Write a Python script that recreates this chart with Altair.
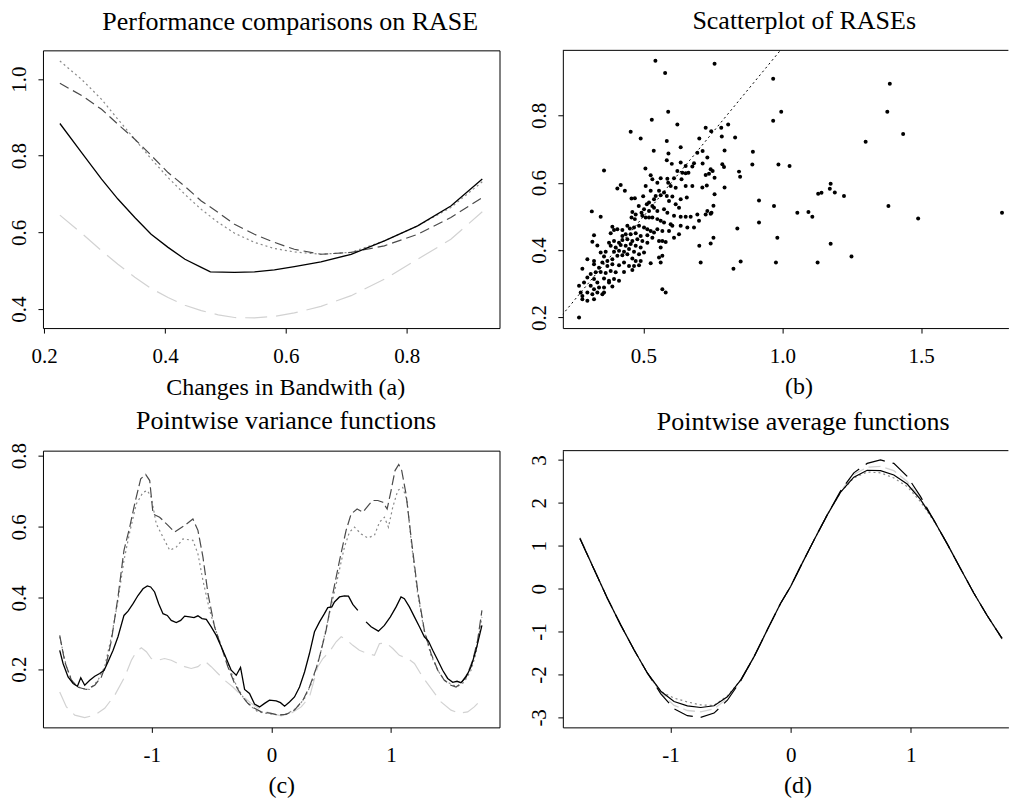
import altair as alt
import pandas as pd

FONT = "Liberation Serif"

# ---------------- (a) Performance comparisons on RASE ----------------
A_X = [0.226, 0.262, 0.295, 0.322, 0.350, 0.377, 0.405, 0.433, 0.460, 0.488,
       0.515, 0.548, 0.581, 0.614, 0.658, 0.708, 0.763, 0.818, 0.873, 0.925]
A_DASH = [0.989, 0.957, 0.921, 0.882, 0.843, 0.801, 0.756, 0.720, 0.682, 0.652,
          0.621, 0.595, 0.574, 0.556, 0.543, 0.548, 0.565, 0.595, 0.639, 0.691]
A_DOT = [1.047, 0.999, 0.947, 0.895, 0.843, 0.792, 0.743, 0.699, 0.660, 0.626,
         0.598, 0.574, 0.558, 0.549, 0.543, 0.548, 0.578, 0.617, 0.665, 0.732]
A_LIGHT = [0.645, 0.598, 0.552, 0.517, 0.483, 0.454, 0.430, 0.410, 0.396, 0.385,
           0.378, 0.377, 0.381, 0.390, 0.407, 0.435, 0.478, 0.530, 0.582, 0.654]
A_SOLID_X = [0.226, 0.262, 0.295, 0.322, 0.350, 0.377, 0.405, 0.433, 0.460, 0.475,
             0.515, 0.548, 0.581, 0.614, 0.658, 0.708, 0.763, 0.818, 0.873, 0.925]
A_SOLID = [0.884, 0.808, 0.739, 0.687, 0.639, 0.595, 0.561, 0.530, 0.509, 0.497,
           0.496, 0.497, 0.502, 0.511, 0.523, 0.543, 0.578, 0.617, 0.669, 0.739]

# ---------------- (b) Scatterplot of RASEs ----------------
B_PTS = [
    (.537, .695), (.590, .687), (.634, .705), (.584, .667), (.602, .656), (.634, .660), (.652, .650), (.676, .648), (.682, .658), (.694, .689),
    (.358, .636), (.507, .642), (.622, .635), (.640, .630), (.652, .628), (.662, .630), (.526, .622), (.532, .610), (.562, .613), (.586, .612),
    (.610, .613), (.637, .610), (.550, .600), (.589, .600), (.598, .590), (.616, .585), (.652, .590), (.676, .590), (.418, .593), (.406, .583),
    (.433, .576), (.508, .590), (.526, .576), (.556, .576), (.574, .571), (.562, .563), (.584, .561), (.604, .559), (.634, .551), (.656, .556),
    (.457, .553), (.469, .554), (.499, .560), (.544, .561), (.538, .551), (.592, .546), (.616, .536), (.628, .526), (.520, .541), (.512, .536),
    (.532, .531), (.538, .526), (.483, .531), (.502, .521), (.520, .516), (.550, .516), (.574, .521), (.586, .511), (.610, .502), (.634, .499),
    (.652, .499), (.670, .499), (.694, .506), (.314, .515), (.346, .499), (.460, .513), (.472, .506), (.493, .511), (.457, .497), (.469, .492),
    (.496, .502), (.508, .497), (.520, .497), (.532, .497), (.550, .492), (.562, .487), (.574, .482), (.598, .477), (.604, .472), (.634, .472),
    (.658, .467), (.682, .467), (.700, .487), (.388, .469), (.394, .460), (.406, .462), (.424, .460), (.442, .472), (.451, .464), (.466, .467),
    (.484, .472), (.502, .467), (.514, .462), (.526, .457), (.538, .452), (.550, .462), (.322, .444), (.382, .450), (.424, .442), (.436, .447),
    (.454, .447), (.472, .450), (.490, .442), (.514, .444), (.532, .437), (.568, .457), (.592, .457), (.610, .437), (.628, .447), (.316, .425),
    (.334, .414), (.376, .422), (.394, .427), (.412, .422), (.424, .430), (.442, .432), (.460, .427), (.478, .432), (.496, .427), (.514, .422),
    (.556, .427), (.568, .427), (.580, .424), (.382, .413), (.400, .408), (.418, .415), (.436, .413), (.454, .418), (.472, .413), (.490, .408),
    (.346, .393), (.364, .395), (.394, .395), (.412, .398), (.430, .395), (.448, .403), (.466, .395), (.484, .388), (.502, .393), (.562, .408),
    (.568, .383), (.556, .378), (.298, .373), (.322, .368), (.358, .381), (.370, .368), (.388, .373), (.406, .383), (.424, .385), (.442, .388),
    (.460, .375), (.472, .368), (.490, .368), (.526, .361), (.562, .363), (.280, .345), (.322, .358), (.340, .348), (.352, .363), (.370, .353),
    (.388, .358), (.412, .355), (.430, .363), (.448, .353), (.466, .353), (.484, .355), (.310, .329), (.328, .334), (.346, .335), (.364, .332),
    (.382, .338), (.400, .334), (.430, .335), (.460, .341), (.268, .294), (.286, .304), (.298, .319), (.322, .314), (.334, .304), (.358, .316),
    (.376, .309), (.394, .314), (.412, .309), (.310, .294), (.322, .284), (.340, .289), (.358, .289), (.376, .304), (.388, .292), (.274, .274),
    (.280, .264), (.298, .274), (.316, .269), (.334, .274), (.352, .269), (.358, .274), (.280, .254), (.298, .250), (.322, .254), (.568, .284),
    (.580, .274), (.268, .200),
    (.543, .962), (.756, .953), (.578, .926), (.967, .909), (.589, .811), (.530, .787), (.622, .773), (.967, .784), (.724, .763), (.744, .753),
    (.780, .763), (.805, .773), (.490, .731), (.584, .724), (.701, .731), (.782, .737), (.830, .734), (.996, .811),
    (.713, .694), (.792, .696), (.894, .692), (.730, .675), (.713, .657), (.742, .640), (.749, .635), (.784, .655), (.790, .647), (.844, .633),
    (.848, .618), (.892, .654), (.986, .654), (1.026, .650), (.724, .623), (.736, .627), (.756, .615), (.728, .592), (.712, .586), (.792, .586),
    (.756, .566), (.916, .547), (.970, .531), (.730, .516), (.745, .511), (.752, .532), (.724, .506), (.742, .508), (.838, .464), (.916, .482),
    (.742, .420), (.752, .437), (.982, .437),
    (1.387, .894), (1.300, .722), (1.378, .811), (1.435, .745), (1.054, .511), (1.094, .513), (1.108, .499), (1.129, .567), (1.141, .570), (1.171, .582),
    (1.174, .597), (1.189, .571), (1.222, .561), (1.382, .531), (1.489, .494), (1.791, .511), (1.174, .419), (1.249, .381), (1.127, .363), (.977, .363),
    (.850, .366), (.824, .345), (.454, .751), (.701, .413), (.706, .363),
]
B_DIAG = [0.15, 1.05]

# ---------------- (c) Pointwise variance functions ----------------
C_SOLID_1 = [
    (-1.769, .253), (-1.741, .216), (-1.699, .178), (-1.657, .160), (-1.621, .152), (-1.593, .176), (-1.560, .155), (-1.518, .169),
    (-1.476, .180), (-1.435, .188), (-1.398, .197), (-1.365, .221), (-1.323, .253), (-1.282, .291), (-1.232, .351), (-1.198, .363),
    (-1.156, .384), (-1.115, .407), (-1.073, .426), (-1.037, .434), (-1.009, .431), (-.976, .417), (-.942, .384), (-.906, .356),
    (-.870, .351), (-.837, .337), (-.795, .331), (-.758, .337), (-.725, .349), (-.683, .347), (-.647, .345), (-.614, .350),
    (-.580, .342), (-.544, .340), (-.503, .319), (-.461, .295), (-.419, .263), (-.377, .230), (-.336, .197), (-.294, .183),
    (-.258, .205), (-.224, .143), (-.183, .132), (-.141, .102), (-.099, .094), (-.057, .104), (-.016, .113), (.040, .111),
    (.076, .106), (.110, .096), (.151, .108), (.193, .122), (.235, .150), (.277, .192), (.318, .244), (.360, .305),
    (.402, .333), (.443, .356), (.471, .373), (.505, .375), (.527, .389), (.569, .403), (.610, .406), (.644, .405),
    (.680, .382), (.722, .365),
]
C_SOLID_2 = [
    (.791, .333), (.833, .319), (.894, .307), (.944, .323), (.994, .347), (1.042, .375), (1.083, .403), (1.111, .398),
    (1.153, .375), (1.195, .347), (1.237, .319), (1.278, .291), (1.312, .279), (1.348, .253), (1.390, .225), (1.431, .197),
    (1.473, .174), (1.515, .163), (1.551, .166), (1.584, .162), (1.626, .178), (1.668, .207), (1.709, .253), (1.759, .323),
]
C_DASH = [
    (-1.769, .295), (-1.727, .221), (-1.671, .169), (-1.615, .149), (-1.546, .143), (-1.476, .155), (-1.421, .178), (-1.379, .216),
    (-1.337, .281), (-1.282, .403), (-1.232, .534), (-1.184, .599), (-1.143, .664), (-1.092, .735), (-1.051, .747), (-1.017, .730),
    (-.989, .636), (-.934, .627), (-.864, .604), (-.809, .585), (-.725, .604), (-.656, .622), (-.614, .590), (-.572, .515),
    (-.530, .412), (-.475, .319), (-.419, .263), (-.364, .207), (-.308, .160), (-.252, .127), (-.197, .104), (-.141, .090),
    (-.085, .080), (-.002, .076), (.054, .071), (.124, .073), (.193, .085), (.263, .113), (.318, .150), (.388, .216),
    (.457, .309), (.513, .412), (.569, .505), (.624, .590), (.666, .636), (.716, .650), (.764, .641), (.819, .664),
    (.847, .674), (.889, .674), (.931, .669), (.967, .650), (1.000, .702), (1.033, .758), (1.064, .775), (1.089, .758),
    (1.125, .692), (1.167, .571), (1.222, .421), (1.278, .309), (1.334, .244), (1.390, .197), (1.445, .169), (1.501, .155),
    (1.543, .150), (1.584, .160), (1.640, .188), (1.682, .225), (1.723, .281), (1.759, .365),
]
C_DOT = [
    (-1.769, .291), (-1.713, .207), (-1.657, .160), (-1.588, .146), (-1.518, .143), (-1.449, .169), (-1.393, .207), (-1.337, .291),
    (-1.282, .393), (-1.232, .506), (-1.184, .585), (-1.129, .664), (-1.073, .697), (-1.037, .702), (-1.004, .683), (-.962, .608),
    (-.906, .571), (-.850, .534), (-.795, .543), (-.739, .566), (-.656, .562), (-.614, .524), (-.572, .449), (-.516, .365),
    (-.461, .305), (-.405, .253), (-.350, .202), (-.294, .155), (-.238, .122), (-.183, .099), (-.113, .080), (-.002, .074),
    (.068, .071), (.138, .076), (.207, .090), (.277, .118), (.346, .169), (.416, .253), (.485, .356), (.555, .459),
    (.610, .543), (.652, .585), (.694, .599), (.750, .580), (.805, .569), (.861, .576), (.903, .613), (.944, .627),
    (.978, .599), (1.014, .655), (1.056, .702), (1.097, .711), (1.133, .674), (1.167, .562), (1.222, .412), (1.278, .305),
    (1.334, .239), (1.390, .197), (1.445, .169), (1.515, .155), (1.557, .152), (1.612, .164), (1.668, .197), (1.709, .244),
    (1.759, .347),
]
C_LIGHT = [
    (-1.769, .136), (-1.713, .094), (-1.643, .071), (-1.560, .064), (-1.476, .071), (-1.393, .090), (-1.309, .127), (-1.226, .178),
    (-1.170, .225), (-1.129, .249), (-1.087, .260), (-1.045, .249), (-1.004, .230), (-.948, .225), (-.893, .230), (-.837, .225),
    (-.781, .216), (-.725, .207), (-.670, .202), (-.614, .207), (-.558, .223), (-.503, .207), (-.447, .188), (-.391, .169),
    (-.322, .150), (-.252, .127), (-.169, .104), (-.085, .085), (-.002, .076), (.082, .069), (.165, .076), (.249, .094),
    (.318, .122), (.388, .207), (.430, .230), (.485, .249), (.541, .277), (.583, .291), (.624, .284), (.680, .267),
    (.735, .253), (.805, .244), (.861, .239), (.903, .272), (.958, .274), (1.014, .258), (1.069, .239), (1.139, .230),
    (1.195, .216), (1.264, .178), (1.334, .146), (1.417, .108), (1.501, .085), (1.570, .076), (1.640, .080), (1.695, .094),
    (1.751, .113),
]

# ---------------- (d) Pointwise average functions ----------------
D_X = [-1.753, -1.634, -1.524, -1.413, -1.302, -1.191, -1.080, -0.970, -0.859, -0.748, -0.637,
       -0.526, -0.416, -0.305, -0.194, -0.083, 0.000, 0.083, 0.194, 0.305, 0.416, 0.526,
       0.637, 0.748, 0.859, 0.970, 1.080, 1.191, 1.302, 1.413, 1.524, 1.634, 1.759]
D_SOLID = [1.17, 0.44, -0.23, -0.85, -1.43, -1.97, -2.39, -2.63, -2.73, -2.77, -2.73,
           -2.52, -2.13, -1.59, -0.96, -0.34, 0.05, 0.52, 1.13, 1.72, 2.25, 2.60,
           2.76, 2.75, 2.65, 2.44, 2.08, 1.60, 1.05, 0.47, -0.10, -0.62, -1.16]
D_LONG = [1.17, 0.44, -0.23, -0.85, -1.43, -1.97, -2.45, -2.80, -2.96, -3.00, -2.90,
          -2.60, -2.15, -1.59, -0.96, -0.34, 0.05, 0.52, 1.13, 1.72, 2.28, 2.70,
          2.92, 3.00, 2.92, 2.62, 2.15, 1.60, 1.05, 0.47, -0.10, -0.62, -1.16]
D_DOT = [1.17, 0.44, -0.23, -0.85, -1.43, -1.97, -2.40, -2.55, -2.64, -2.71, -2.72,
         -2.50, -2.13, -1.59, -0.96, -0.34, 0.05, 0.52, 1.13, 1.72, 2.25, 2.58,
         2.72, 2.70, 2.58, 2.38, 2.03, 1.58, 1.05, 0.47, -0.10, -0.62, -1.16]
D_LIGHT = [1.20, 0.46, -0.22, -0.85, -1.43, -1.98, -2.42, -2.72, -2.84, -2.87, -2.80,
           -2.56, -2.14, -1.60, -0.97, -0.34, 0.05, 0.52, 1.13, 1.73, 2.27, 2.66,
           2.83, 2.85, 2.75, 2.50, 2.10, 1.61, 1.06, 0.48, -0.10, -0.62, -1.18]

# ---------------- helpers ----------------
def df_xy(xs, ys):
    return pd.DataFrame({"x": xs, "y": ys, "i": list(range(len(xs)))})


def df_pairs(pairs):
    return df_xy([p[0] for p in pairs], [p[1] for p in pairs])


def sc(lo, hi):
    return alt.Scale(domain=[lo, hi], nice=False, zero=False)


def line_layer(df, xs, ys, xa, ya, color, width=1.2, dash=None):
    mk = {"color": color, "strokeWidth": width, "clip": True}
    if dash is not None:
        mk["strokeDash"] = dash
    return alt.Chart(df).mark_line(**mk).encode(
        x=alt.X("x:Q", scale=xs, axis=xa),
        y=alt.Y("y:Q", scale=ys, axis=ya),
        order="i:Q",
    )


def x_axis(values, title, tx, ty, expr, framed=False):
    kw = dict(values=values, title=title, titleX=tx, titleY=ty, labelExpr=expr)
    if framed:
        kw.update(domain=True, domainColor="black", domainWidth=1)
    return alt.Axis(**kw)


def y_axis(values, expr, framed=False):
    kw = dict(values=values, title=None, labelExpr=expr)
    if framed:
        kw.update(domain=True, domainColor="black", domainWidth=1)
    return alt.Axis(**kw)


def top_rule():
    return alt.Chart(pd.DataFrame({"k": [0]})).mark_rule(color="black", strokeWidth=1).encode(
        x=alt.value(0), x2=alt.value("width"), y=alt.value(0)
    )


F1 = "format(datum.value, '.1f')"
FI = "'' + datum.value"

DARK = "#4a4a4a"
MID = "#8a8a8a"
LIGHT = "#d2d2d2"

LW, RW = 457, 446
TH, BH = 278, 277

# ---------------- panel (a) ----------------
axs, ays = sc(0.198, 0.9535), sc(0.3505, 1.0748)
xa = x_axis([0.2, 0.4, 0.6, 0.8], "Changes in Bandwith (a)", 242.5, 66, F1)
ya = y_axis([0.4, 0.6, 0.8, 1.0], F1)
pa = alt.layer(
    line_layer(df_xy(A_X, A_LIGHT), axs, ays, xa, ya, LIGHT, 1.2, [22, 9]),
    line_layer(df_xy(A_X, A_DOT), axs, ays, xa, ya, MID, 1.2, [2, 3]),
    line_layer(df_xy(A_X, A_DASH), axs, ays, xa, ya, DARK, 1.2, [10, 5]),
    line_layer(df_xy(A_SOLID_X, A_SOLID), axs, ays, xa, ya, "black", 1.3),
).properties(
    width=LW, height=TH,
    title=alt.TitleParams("Performance comparisons on RASE", dx=19, offset=15.5),
)

# ---------------- panel (b) ----------------
bxs, bys = sc(0.2097, 1.8140), sc(0.1686, 0.993)
xb = x_axis([0.5, 1.0, 1.5], "(b)", 235.8, 65.5, F1, framed=True)
yb = y_axis([0.2, 0.4, 0.6, 0.8], F1, framed=True)
b_df = df_pairs(B_PTS)
diag_df = df_xy(B_DIAG, B_DIAG)
pb = alt.layer(
    alt.Chart(diag_df).mark_line(color="black", strokeWidth=1, strokeDash=[2, 3], clip=True).encode(
        x=alt.X("x:Q", scale=bxs, axis=xb), y=alt.Y("y:Q", scale=bys, axis=yb), order="i:Q"),
    alt.Chart(b_df).mark_circle(color="black", opacity=1, size=16, clip=True).encode(
        x=alt.X("x:Q", scale=bxs, axis=xb), y=alt.Y("y:Q", scale=bys, axis=yb)),
    top_rule(),
).properties(
    width=RW, height=TH,
    title=alt.TitleParams("Scatterplot of RASEs", dx=18.6, offset=15.5),
    view=alt.ViewBackground(strokeWidth=0),
)

# ---------------- panel (c) ----------------
cxs, cys = sc(-1.909, 1.906), sc(0.0365, 0.814)
xc = x_axis([-1, 0, 1], "(c)", 238.5, 65, FI)
yc = y_axis([0.2, 0.4, 0.6, 0.8], F1)
pc = alt.layer(
    line_layer(df_pairs(C_LIGHT), cxs, cys, xc, yc, LIGHT, 1.2, [18, 8]),
    line_layer(df_pairs(C_DOT), cxs, cys, xc, yc, MID, 1.2, [2, 3]),
    line_layer(df_pairs(C_DASH), cxs, cys, xc, yc, DARK, 1.2, [10, 4]),
    line_layer(df_pairs(C_SOLID_1), cxs, cys, xc, yc, "black", 1.3),
    line_layer(df_pairs(C_SOLID_2), cxs, cys, xc, yc, "black", 1.3),
).properties(
    width=LW, height=BH,
    title=alt.TitleParams("Pointwise variance functions", dx=14.8, offset=9),
)

# ---------------- panel (d) ----------------
dxs, dys = sc(-1.8953, 1.8122), sc(-3.233, 3.217)
xd = x_axis([-1, 0, 1], "(d)", 234.8, 65, FI, framed=True)
yd = y_axis([-3, -2, -1, 0, 1, 2, 3], FI, framed=True)
pdd = alt.layer(
    line_layer(df_xy(D_X, D_LIGHT), dxs, dys, xd, yd, LIGHT, 1.3, [12, 5]),
    line_layer(df_xy(D_X, D_DOT), dxs, dys, xd, yd, MID, 1.2, [2, 3]),
    line_layer(df_xy(D_X, D_SOLID), dxs, dys, xd, yd, "black", 1.2),
    line_layer(df_xy(D_X, D_LONG), dxs, dys, xd, yd, "black", 1.2, [20, 8]),
    top_rule(),
).properties(
    width=RW, height=BH,
    title=alt.TitleParams("Pointwise average functions", dx=17.6, offset=15),
    view=alt.ViewBackground(strokeWidth=0),
)

chart = alt.concat(
    pa, pb, pc, pdd, columns=2,
    spacing={"row": 122.7, "column": 63.4},
    bounds="flush",
).properties(
    padding={"left": 8, "top": 8, "right": 0, "bottom": 0},
).configure_view(
    stroke="black", strokeWidth=1,
).configure_axis(
    labelFont=FONT, labelFontSize=21, labelColor="black",
    titleFont=FONT, titleFontSize=24, titleFontWeight="normal", titleColor="black",
    titleAlign="center", titleBaseline="alphabetic",
    tickColor="black", tickSize=5, tickWidth=1,
    domain=False, grid=False, labelFlush=False, labelOverlap=False,
).configure_axisX(
    labelAngle=0, labelPadding=12, labelBaseline="top", labelAlign="center",
).configure_axisY(
    labelAngle=270, labelAlign="center", labelBaseline="bottom", labelPadding=8,
).configure_title(
    font=FONT, fontSize=26, fontWeight="normal", color="black",
    anchor="middle", frame="group", baseline="alphabetic",
)

chart.save("out.html", embed_options={"renderer": "svg", "actions": False})
